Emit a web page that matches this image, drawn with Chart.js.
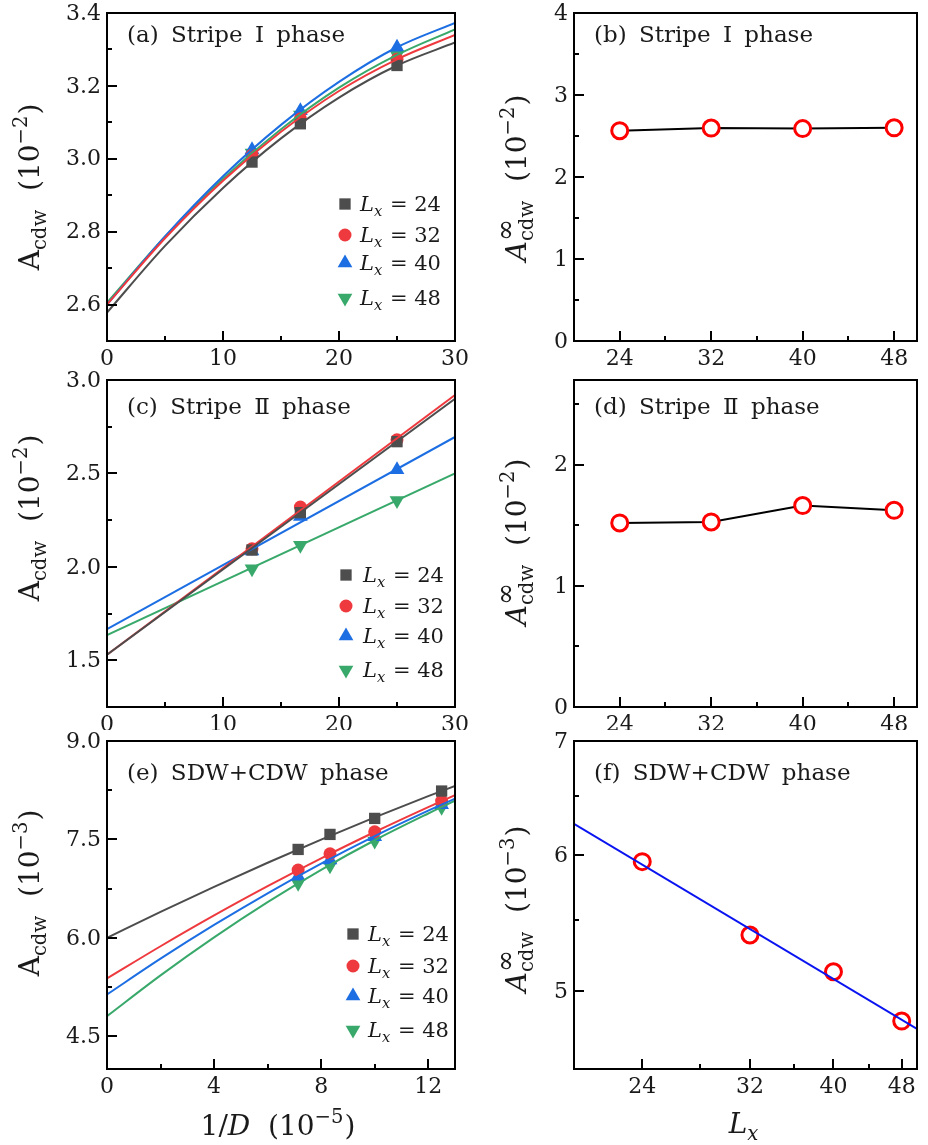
<!DOCTYPE html>
<html>
<head>
<meta charset="utf-8">
<script src="https://cdn.jsdelivr.net/npm/chart.js@4.4.1/dist/chart.umd.min.js"></script>
<style>
  html, body { margin: 0; padding: 0; background: #fff; }
  #page { position: relative; width: 928px; height: 1145px; overflow: hidden; background: #fff; }
  canvas { position: absolute; }
</style>
</head>
<body>
<div id="page">
  <canvas id="pa"></canvas>
  <canvas id="pb"></canvas>
  <canvas id="pc"></canvas>
  <canvas id="pd"></canvas>
  <canvas id="pe"></canvas>
  <canvas id="pf"></canvas>
</div>
<script>
// ---- data ----
const sizes = [24, 32, 40, 48];

// (a) Stripe I, A_cdw vs 1/D (10^-5)
const invD1 = [12.5, 16.67, 25];
const a24 = [2.991, 3.096, 3.256];
const a32 = [3.010, 3.110, 3.273];
const a40 = [3.025, 3.132, 3.306];
const a48 = [3.016, 3.120, 3.285];
const aFitX = [0, 5, 10, 15, 20, 25, 30];
const aFit24 = [2.578, 2.761, 2.920, 3.056, 3.168, 3.256, 3.319];
const aFit32 = [2.600, 2.782, 2.940, 3.074, 3.186, 3.273, 3.340];
const aFit40 = [2.600, 2.787, 2.952, 3.093, 3.211, 3.306, 3.373];
const aFit48 = [2.605, 2.786, 2.945, 3.081, 3.195, 3.285, 3.355];

// (b) Stripe I, extrapolated A_cdw
const bInf = [2.565, 2.597, 2.590, 2.600];

// (c) Stripe II
const c24 = [2.090, 2.290, 2.670];
const c32 = [2.097, 2.320, 2.680];
const c40 = [2.085, 2.270, 2.520];
const c48 = [1.990, 2.115, 2.355];
const cFitX = [0, 30];
const cFit24 = [1.530, 2.900];
const cFit32 = [1.530, 2.920];
const cFit40 = [1.667, 2.695];
const cFit48 = [1.635, 2.500];

// (d) Stripe II, extrapolated
const dInf = [1.520, 1.528, 1.663, 1.624];

// (e) SDW+CDW, A_cdw (10^-3)
const invD2 = [7.14, 8.33, 10, 12.5];
const e24 = [7.347, 7.576, 7.820, 8.237];
const e32 = [7.032, 7.281, 7.617, 8.085];
const e40 = [6.940, 7.185, 7.540, 8.030];
const e48 = [6.830, 7.100, 7.475, 7.990];
const eFitX = [0, 2, 4, 6, 8, 10, 12, 13];
const eFit24 = [6.000, 6.396, 6.777, 7.144, 7.497, 7.835, 8.159, 8.315];
const eFit32 = [5.380, 5.871, 6.341, 6.787, 7.212, 7.613, 7.993, 8.175];
const eFit40 = [5.136, 5.682, 6.196, 6.679, 7.131, 7.550, 7.938, 8.121];
const eFit48 = [4.806, 5.428, 6.007, 6.544, 7.037, 7.487, 7.895, 8.090];

// (f) SDW+CDW, extrapolated, log-log with power-law fit
const fInf = [5.950, 5.390, 5.130, 4.800];
const fFitX = [20, 50];
const fFitY = [6.26, 4.75];

// tick values
const xTicksD = [0, 10, 20, 30], xMinorD = [5, 15, 25];
const xTicksE = [0, 4, 8, 12], xMinorE = [2, 6, 10];
const xTicksL = [24, 32, 40, 48], xMinorL = [28, 36, 44];
const yTicksA = [2.6, 2.8, 3.0, 3.2, 3.4], yMinorA = [2.7, 2.9, 3.1, 3.3];
const yTicksB = [0, 1, 2, 3, 4], yMinorB = [0.5, 1.5, 2.5, 3.5];
const yTicksC = [1.5, 2.0, 2.5, 3.0], yMinorC = [1.75, 2.25, 2.75];
const yTicksD = [0, 1, 2], yMinorD = [0.5, 1.5, 2.5];
const yTicksE = [4.5, 6.0, 7.5, 9.0], yMinorE = [5.25, 6.75, 8.25];
const yTicksF = [5, 6, 7], yMinorF = [5.5, 6.5];

// ---- styling ----
const FONT = '"DejaVu Serif", serif';
const colors = ['#4d4d4d', '#ee3a3e', '#1c6ee2', '#39a96b'];
const styles = ['rect', 'circle', 'triangle', 'triangle'];
const rots = [0, 0, 0, 180];
const radii = [8, 6.5, 8.5, 8.5];

const pts = (xs, ys) => xs.map((x, i) => ({ x: x, y: ys[i] }));

function markers(xs, series) {
  return series.map((ys, k) => ({
    data: pts(xs, ys),
    showLine: false,
    pointStyle: styles[k],
    pointRotation: rots[k],
    pointRadius: radii[k],
    pointBorderWidth: 0,
    pointBackgroundColor: colors[k],
    order: 2
  }));
}

function fits(xs, series, smooth) {
  return series.map((ys, k) => ({
    data: pts(xs, ys),
    showLine: true,
    pointRadius: 0,
    borderColor: colors[k],
    borderWidth: 2,
    tension: smooth ? 0.4 : 0,
    cubicInterpolationMode: smooth ? 'monotone' : 'default',
    order: 1
  }));
}

function ringSeries(ys, lineColor) {
  return {
    data: pts(sizes, ys),
    showLine: !!lineColor,
    borderColor: lineColor || 'transparent',
    borderWidth: 2,
    pointStyle: 'circle',
    pointRadius: 8,
    pointBorderWidth: 3,
    pointBorderColor: '#ff0000',
    pointBackgroundColor: lineColor ? '#ffffff' : 'transparent',
    order: 2
  };
}

// text with sub/superscripts
function setFont(ctx, it, s) {
  ctx.font = (it ? 'italic ' : '') + s + 'px ' + FONT;
}
function drawRich(ctx, segs, x, y, size, align) {
  let w = 0;
  const parts = segs.map(g => {
    let wd;
    if (g.t !== undefined) {
      setFont(ctx, g.it, size);
      wd = ctx.measureText(g.t).width;
    } else {
      setFont(ctx, g.it, size * 0.7);
      const w1 = g.sub ? ctx.measureText(g.sub).width : 0;
      setFont(ctx, g.it, size * (g.supScale || 0.7));
      const w2 = g.sup ? ctx.measureText(g.sup).width : 0;
      wd = Math.max(w1, w2) + 1;
    }
    w += wd;
    return { g: g, wd: wd };
  });
  let cx = align === 'center' ? x - w / 2 : x;
  ctx.textAlign = 'left';
  ctx.textBaseline = 'alphabetic';
  parts.forEach(p => {
    const g = p.g;
    if (g.t !== undefined) {
      setFont(ctx, g.it, size);
      ctx.fillText(g.t, cx, y);
    } else {
      setFont(ctx, g.it, size * 0.7);
      if (g.sub) ctx.fillText(g.sub, cx, y + size * 0.24);
      setFont(ctx, g.it, size * (g.supScale || 0.7));
      if (g.sup) ctx.fillText(g.sup, cx, y - size * 0.42);
    }
    cx += p.wd;
  });
}

const inf = { sup: '\u221e', supScale: 0.95, sub: 'cdw' };
const titleA = [{ t: 'A' }, { sub: 'cdw' }, { t: '  (10' }, { sup: '\u22122' }, { t: ')' }];
const titleA3 = [{ t: 'A' }, { sub: 'cdw' }, { t: '  (10' }, { sup: '\u22123' }, { t: ')' }];
const titleInf = [{ t: 'A', it: true }, inf, { t: '  (10' }, { sup: '\u22122' }, { t: ')' }];
const titleInf3 = [{ t: 'A', it: true }, inf, { t: '  (10' }, { sup: '\u22123' }, { t: ')' }];

const deco = {
  id: 'deco',
  afterDraw(chart, args, o) {
    const ctx = chart.ctx, a = chart.chartArea;
    const sx = chart.scales.x, sy = chart.scales.y;
    ctx.save();
    ctx.strokeStyle = '#000';
    ctx.fillStyle = '#000';
    ctx.lineWidth = 2;
    ctx.beginPath();
    sx.ticks.forEach(t => {
      const px = Math.round(sx.getPixelForValue(t.value));
      ctx.moveTo(px, a.bottom); ctx.lineTo(px, a.bottom - 10);
    });
    o.xMinor.forEach(v => {
      const px = Math.round(sx.getPixelForValue(v));
      ctx.moveTo(px, a.bottom); ctx.lineTo(px, a.bottom - 5);
    });
    sy.ticks.forEach(t => {
      const py = Math.round(sy.getPixelForValue(t.value));
      ctx.moveTo(a.left, py); ctx.lineTo(a.left + 10, py);
    });
    o.yMinor.forEach(v => {
      const py = Math.round(sy.getPixelForValue(v));
      ctx.moveTo(a.left, py); ctx.lineTo(a.left + 5, py);
    });
    ctx.stroke();
    ctx.strokeRect(a.left, a.top, a.right - a.left, a.bottom - a.top);

    // tick labels
    ctx.fillStyle = '#1a1a1a';
    setFont(ctx, false, 22);
    ctx.textAlign = 'center';
    ctx.textBaseline = 'middle';
    sx.ticks.forEach(t => {
      ctx.fillText(String(t.value), sx.getPixelForValue(t.value), a.bottom + 18);
    });
    ctx.textAlign = 'right';
    sy.ticks.forEach(t => {
      ctx.fillText(t.value.toFixed(o.yDigits), a.left - 6, sy.getPixelForValue(t.value) + 1);
    });

    // panel label
    ctx.save();
    ctx.wordSpacing = '5px';
    drawRich(ctx, [{ t: o.label }], a.left + 20, a.top + o.labelDy + 8, 23, 'left');
    ctx.restore();

    // y title
    ctx.save();
    ctx.translate(o.yTitle.x, o.yTitle.y);
    ctx.rotate(-Math.PI / 2);
    drawRich(ctx, o.yTitle.segs, 0, 10, 28, 'center');
    ctx.restore();

    // x title
    if (o.xTitle) {
      drawRich(ctx, o.xTitle.segs, o.xTitle.x, o.xTitle.y + 10, 28, 'center');
    }

    // legend
    if (o.legend) {
      const L = o.legend;
      L.rows.forEach((ry, k) => {
        ctx.fillStyle = colors[k];
        Chart.helpers.drawPoint(ctx, {
          pointStyle: styles[k], rotation: rots[k], radius: radii[k], borderWidth: 0
        }, L.mx, ry);
        ctx.fillStyle = '#1a1a1a';
        drawRich(ctx, [{ t: 'L', it: true }, { sub: 'x', it: true }, { t: ' = ' + sizes[k] }], L.tx, ry + 7, 21, 'left');
      });
    }
    ctx.restore();
  }
};

function axis(min, max, major, log) {
  return {
    type: log ? 'logarithmic' : 'linear',
    min: min,
    max: max,
    grid: { display: false },
    border: { display: false },
    ticks: { display: false },
    afterBuildTicks: s => { s.ticks = major.map(v => ({ value: v })); },
    afterFit: s => { if (s.isHorizontal()) s.height = 0; else s.width = 0; }
  };
}

function panel(id, box, pad, datasets, xs, ys, d) {
  const cv = document.getElementById(id);
  cv.width = box.w; cv.height = box.h;
  cv.style.width = box.w + 'px'; cv.style.height = box.h + 'px';
  cv.style.left = box.left + 'px'; cv.style.top = box.top + 'px';
  return new Chart(cv, {
    type: 'scatter',
    data: { datasets: datasets },
    options: {
      responsive: false,
      animation: false,
      events: [],
      layout: { padding: pad },
      plugins: { legend: { display: false }, tooltip: { enabled: false }, deco: d },
      scales: { x: xs, y: ys }
    },
    plugins: [deco]
  });
}

// canvas boxes
const L1 = { left: 0, top: 0, w: 476, h: 368 }, R1 = { left: 464, top: 0, w: 464, h: 368 };
const L2 = { left: 0, top: 368, w: 476, h: 362 }, R2 = { left: 464, top: 368, w: 464, h: 362 };
const L3 = { left: 0, top: 730, w: 476, h: 415 }, R3 = { left: 464, top: 730, w: 464, h: 415 };
const padL1 = { left: 107, right: 21, top: 13, bottom: 27 }, padR1 = { left: 110, right: 7, top: 13, bottom: 27 };
const padL2 = { left: 107, right: 21, top: 12, bottom: 23 }, padR2 = { left: 110, right: 7, top: 12, bottom: 23 };
const padL3 = { left: 107, right: 21, top: 11, bottom: 76 }, padR3 = { left: 110, right: 7, top: 11, bottom: 76 };

panel('pa', L1, padL1,
  markers(invD1, [a24, a32, a40, a48]).concat(fits(aFitX, [aFit24, aFit32, aFit40, aFit48], true)),
  axis(0, 30, xTicksD), axis(2.5, 3.4, yTicksA),
  { xMinor: xMinorD, yMinor: yMinorA, yDigits: 1, label: '(a) Stripe I phase', labelDy: 21,
    yTitle: { x: 29, y: 187, segs: titleA }, legend: { mx: 345, tx: 360, rows: [204, 235, 263, 298] } });

panel('pb', R1, padR1, [ringSeries(bInf, '#000')],
  axis(20, 50, xTicksL), axis(0, 4, yTicksB),
  { xMinor: xMinorL, yMinor: yMinorB, yDigits: 0, label: '(b) Stripe I phase', labelDy: 21,
    yTitle: { x: 52, y: 178, segs: titleInf } });

panel('pc', L2, padL2,
  markers(invD1, [c24, c32, c40, c48]).concat(fits(cFitX, [cFit24, cFit32, cFit40, cFit48], false)),
  axis(0, 30, xTicksD), axis(1.25, 3.0, yTicksC),
  { xMinor: xMinorD, yMinor: yMinorC, yDigits: 1, label: '(c) Stripe \u2161 phase', labelDy: 26,
    yTitle: { x: 29, y: 150, segs: titleA }, legend: { mx: 346, tx: 363, rows: [207, 238, 268, 302] } });

panel('pd', R2, padR2, [ringSeries(dInf, '#000')],
  axis(20, 50, xTicksL), axis(0, 2.7, yTicksD),
  { xMinor: xMinorL, yMinor: yMinorD, yDigits: 0, label: '(d) Stripe \u2161 phase', labelDy: 26,
    yTitle: { x: 52, y: 174, segs: titleInf } });

panel('pe', L3, padL3,
  markers(invD2, [e24, e32, e40, e48]).concat(fits(eFitX, [eFit24, eFit32, eFit40, eFit48], true)),
  axis(0, 13, xTicksE), axis(4.0, 9.0, yTicksE),
  { xMinor: xMinorE, yMinor: yMinorE, yDigits: 1, label: '(e) SDW+CDW phase', labelDy: 31,
    yTitle: { x: 29, y: 163, segs: titleA3 }, legend: { mx: 353, tx: 368, rows: [204, 236, 266, 300] },
    xTitle: { x: 278, y: 395, segs: [{ t: '1/' }, { t: 'D', it: true }, { t: '  (10' }, { sup: '\u22125' }, { t: ')' }] } });

panel('pf', R3, padR3, [
    ringSeries(fInf, null),
    { data: pts(fFitX, fFitY), showLine: true, pointRadius: 0, borderColor: '#0a14f0', borderWidth: 2, order: 1 }
  ],
  axis(20, 50, xTicksL, true), axis(4.5, 7, yTicksF, true),
  { xMinor: xMinorL, yMinor: yMinorF, yDigits: 0, label: '(f) SDW+CDW phase', labelDy: 31,
    yTitle: { x: 52, y: 179, segs: titleInf3 },
    xTitle: { x: 280, y: 393, segs: [{ t: 'L', it: true }, { sub: 'x', it: true }] } });
</script>
</body>
</html>
